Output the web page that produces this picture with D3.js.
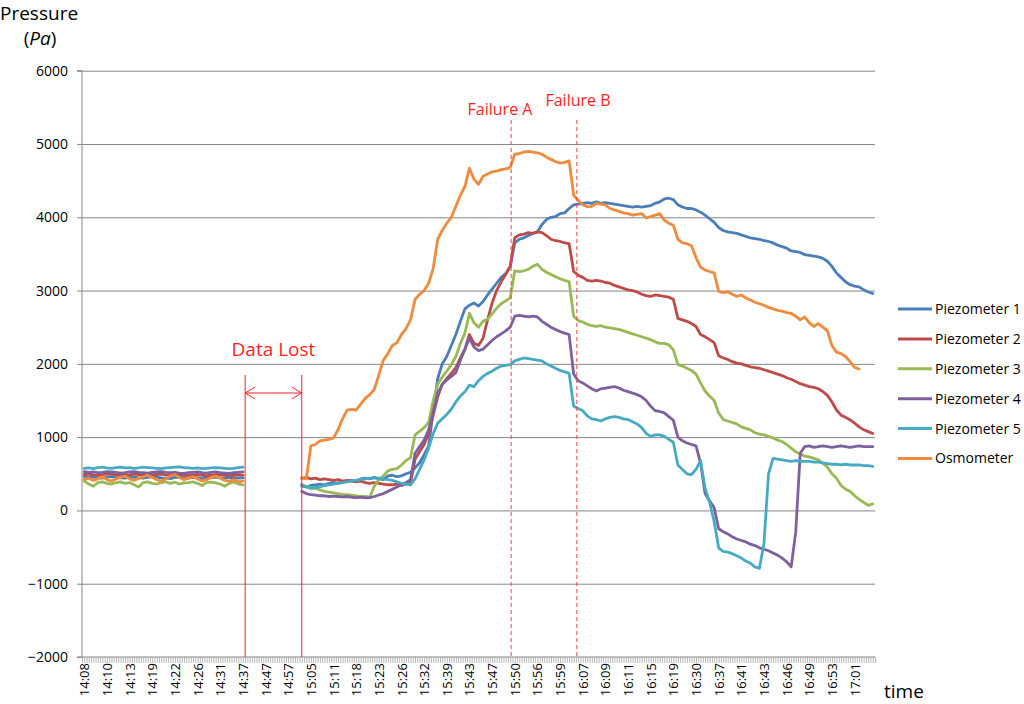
<!DOCTYPE html>
<html><head><meta charset="utf-8">
<script src="https://cdn.jsdelivr.net/npm/d3@7"></script>
<style>body{margin:0;background:#fff}svg{display:block}text{font-family:'Open Sans',sans-serif}</style>
</head><body><svg id="chart" width="1024" height="704"></svg>
<script>
// ---- tick labels (one every 5 samples) ----
const tickLabels = ["14:08","14:10","14:13","14:19","14:22","14:26","14:31","14:37","14:47","14:57",
  "15:05","15:11","15:18","15:23","15:26","15:32","15:39","15:43","15:47","15:50","15:56","15:59",
  "16:07","16:09","16:11","16:15","16:19","16:30","16:37","16:41","16:43","16:46","16:49","16:53","17:01"];
const samplesPerLabel = 5;
const yTicks = [-2000,-1000,0,1000,2000,3000,4000,5000,6000];
const seriesNames = ["Piezometer 1","Piezometer 2","Piezometer 3","Piezometer 4","Piezometer 5","Osmometer"];
const seriesColors = ["#4A7EBB","#BE4B48","#98B954","#7D60A0","#46AAC5","#F08A3C"];

// ---- series values (Pa), 175 samples, null = data lost ----
const piezo1 = [460,450,455,445,440,455,460,450,445,440,450,455,445,440,450,460,455,445,440,435,450,455,445,440,450,445,435,440,450,455,445,440,450,445,440,445,
  null,null,null,null,null,null,null,null,null,null,null,null,
  330,320,340,350,360,350,370,380,370,390,
  400,410,400,430,440,430,450,430,420,470,
  480,460,470,500,520,580,650,760,880,1350,
  1800,2000,2100,2250,2400,2580,2750,2800,2830,2790,
  2850,2940,3020,3100,3180,3230,3330,3650,3700,3720,
  3750,3780,3800,3900,3970,4000,4010,4050,4060,4120,
  4170,4180,4190,4200,4190,4210,4190,4200,4190,4180,
  4170,4160,4150,4140,4150,4140,4150,4160,4190,4210,
  4250,4260,4240,4170,4140,4120,4120,4100,4070,4030,
  3980,3930,3860,3820,3800,3790,3780,3760,3740,3720,
  3710,3700,3680,3670,3650,3620,3600,3580,3540,3530,
  3520,3490,3480,3470,3460,3440,3400,3330,3240,3180,
  3120,3080,3060,3050,3010,2980,2960];
const piezo2 = [490,495,485,480,490,500,495,485,490,480,485,495,490,480,475,485,490,495,485,480,490,485,480,475,485,490,480,470,480,490,485,480,475,480,485,480,
  null,null,null,null,null,null,null,null,null,null,null,null,
  440,450,430,440,420,430,420,410,420,400,
  410,400,390,400,380,370,380,370,360,350,
  350,360,340,360,370,700,800,900,1050,1300,
  1550,1720,1800,1870,1950,2080,2200,2400,2280,2250,
  2350,2600,2830,3000,3120,3220,3330,3720,3760,3770,
  3790,3780,3800,3790,3750,3700,3680,3670,3650,3640,
  3260,3210,3180,3140,3130,3140,3130,3110,3100,3070,
  3050,3030,3010,3000,2980,2950,2930,2920,2940,2930,
  2920,2910,2880,2620,2600,2580,2550,2510,2400,2370,
  2330,2290,2110,2080,2060,2030,2010,2000,1980,1960,
  1950,1940,1920,1900,1880,1860,1840,1810,1790,1760,
  1730,1710,1690,1680,1660,1620,1570,1480,1370,1300,
  1270,1235,1190,1140,1100,1075,1050];
const piezo3 = [400,360,330,380,390,370,360,380,390,370,380,350,320,380,390,370,360,380,390,370,385,360,375,380,390,370,340,380,385,375,360,330,370,385,360,350,
  null,null,null,null,null,null,null,null,null,null,null,null,
  350,330,310,300,280,260,250,240,230,220,
  215,210,200,190,190,180,330,420,470,540,
  560,570,620,680,720,1030,1080,1130,1200,1500,
  1720,1820,1900,1990,2100,2280,2420,2690,2560,2500,
  2580,2610,2680,2760,2820,2860,2900,3270,3260,3270,
  3290,3330,3360,3290,3250,3220,3190,3160,3140,3120,
  2650,2590,2570,2540,2520,2510,2520,2500,2490,2480,
  2470,2450,2430,2410,2390,2370,2350,2330,2300,2280,
  2280,2260,2190,1990,1970,1940,1910,1860,1740,1630,
  1560,1500,1330,1240,1220,1200,1180,1140,1120,1100,
  1060,1040,1030,1010,990,960,940,900,850,800,
  770,740,730,710,690,640,590,500,440,340,
  290,260,200,150,110,70,90];
const piezo4 = [530,520,525,515,520,530,525,520,510,515,525,530,520,515,510,520,525,530,520,515,520,510,505,515,520,525,515,510,520,525,515,510,505,515,520,525,
  null,null,null,null,null,null,null,null,null,null,null,null,
  260,230,215,210,200,200,190,195,190,185,
  190,180,175,180,170,175,190,210,230,260,
  290,320,350,380,420,780,870,960,1100,1350,
  1600,1720,1780,1830,1880,2050,2200,2350,2230,2180,
  2200,2260,2320,2370,2410,2450,2500,2650,2660,2650,
  2640,2650,2640,2580,2540,2500,2470,2440,2420,2400,
  1860,1770,1740,1700,1660,1630,1660,1670,1680,1690,
  1670,1640,1620,1600,1580,1550,1500,1420,1360,1350,
  1330,1280,1230,1000,950,920,900,880,650,230,
  130,40,-250,-290,-320,-360,-390,-410,-430,-460,
  -480,-510,-530,-550,-580,-610,-650,-700,-770,-300,
  780,870,880,860,870,880,870,860,870,880,
  870,860,870,880,870,870,870];
const piezo5 = [575,580,570,585,590,580,575,585,590,580,585,575,580,590,585,580,575,570,580,585,590,595,585,580,575,580,570,575,580,585,580,575,570,575,585,590,
  null,null,null,null,null,null,null,null,null,null,null,null,
  350,320,300,310,320,340,350,360,370,380,
  390,400,410,420,430,440,440,440,430,420,
  410,390,370,360,350,430,560,690,850,1050,
  1190,1250,1310,1380,1480,1560,1620,1710,1690,1770,
  1830,1870,1900,1940,1970,1980,1990,2040,2060,2080,
  2070,2060,2050,2040,2000,1970,1940,1910,1890,1870,
  1420,1390,1360,1290,1250,1240,1220,1250,1270,1280,
  1270,1250,1240,1210,1180,1130,1050,1010,1030,1030,
  1010,970,930,620,560,500,490,560,680,300,
  110,-150,-510,-560,-570,-590,-620,-650,-690,-720,
  -770,-790,-450,500,710,700,690,680,670,680,
  670,670,670,660,660,650,640,630,630,620,
  630,620,620,620,610,610,600];
const osmometer = [420,440,410,430,460,420,400,430,450,470,430,410,440,460,480,450,420,400,430,470,490,450,420,440,460,430,400,420,450,470,440,410,400,420,390,400,
  null,null,null,null,null,null,null,null,null,null,null,null,
  440,430,880,900,950,960,970,990,1100,1250,
  1370,1380,1370,1450,1530,1580,1650,1850,2050,2140,
  2250,2290,2400,2480,2600,2880,2950,3000,3100,3300,
  3700,3820,3920,4000,4150,4300,4420,4670,4520,4450,
  4560,4590,4620,4630,4650,4660,4680,4860,4870,4890,
  4900,4890,4880,4860,4820,4790,4760,4740,4750,4770,
  4300,4230,4170,4145,4150,4190,4180,4170,4120,4100,
  4080,4060,4050,4030,4040,4050,3990,4010,4030,4050,
  3960,3920,3890,3700,3650,3640,3610,3450,3320,3280,
  3260,3240,2990,2970,2985,2950,2920,2940,2900,2870,
  2840,2820,2800,2770,2750,2730,2720,2700,2690,2650,
  2600,2640,2560,2510,2550,2500,2450,2250,2160,2140,
  2100,2030,1950,1930,null,null,null];
const seriesData = [piezo1, piezo2, piezo3, piezo4, piezo5, osmometer];

// annotation positions expressed in sample index
const dataLostFrom = 35.5, dataLostTo = 48;
const failureA = 94.2, failureB = 108.7;

// ---- layout ----
const N = piezo1.length;
const L = 82, R = 875, T = 70.7, B = 657;
const svg = d3.select("#chart");
const x = d3.scaleLinear().domain([-0.5, N - 0.5]).range([L, R]);
const y = d3.scaleLinear().domain([-2000, 6000]).range([B, T]);
const gridCol = "#868686";

// gridlines
svg.append("g").attr("transform", `translate(${L},0)`)
  .call(d3.axisLeft(y).tickValues(yTicks.slice(1)).tickSize(-(R - L)).tickFormat(""))
  .call(g => g.select(".domain").remove())
  .call(g => g.selectAll("line").attr("stroke", gridCol).attr("stroke-width", 1));

// y axis
svg.append("g").attr("transform", `translate(${L},0)`)
  .call(d3.axisLeft(y).tickValues(yTicks).tickSize(5).tickPadding(9).tickFormat(d3.format("d")))
  .call(g => g.select(".domain").attr("stroke", gridCol).attr("d", `M-5,${B}H0V${T}H-5`))
  .call(g => g.selectAll("line").attr("stroke", gridCol))
  .call(g => g.selectAll("text").attr("font-size", 14).attr("fill", "#000").attr("font-family", "'Open Sans',sans-serif"));

// x axis: dense ticks
svg.append("g").attr("transform", `translate(0,${B})`)
  .call(d3.axisBottom(x).tickValues(d3.range(-0.5, N, 0.5)).tickSize(6).tickFormat(""))
  .call(g => g.select(".domain").attr("stroke", gridCol).attr("d", `M${L},0H${R}`))
  .call(g => g.selectAll("line").attr("stroke", "#9a9a9a").attr("stroke-width", 0.7));

// x labels
const labelIdx = tickLabels.map((d, j) => j * samplesPerLabel);
svg.append("g").attr("transform", `translate(0,${B})`)
  .call(d3.axisBottom(x).tickValues(labelIdx).tickSize(0).tickFormat((d, j) => tickLabels[j]))
  .call(g => g.select(".domain").remove())
  .call(g => g.selectAll("text")
    .attr("font-size", 13).attr("fill", "#000").attr("font-family", "'Open Sans',sans-serif")
    .attr("text-anchor", "end").attr("transform", "rotate(-90)")
    .attr("x", -6).attr("y", 0).attr("dy", "0.35em"));

// series lines
const line = d3.line().defined(d => d != null).x((d, i) => x(i)).y(d => y(d));
seriesData.forEach((arr, k) => {
  svg.append("path").datum(arr)
    .attr("d", line)
    .attr("fill", "none").attr("stroke", seriesColors[k])
    .attr("stroke-width", 2.8).attr("stroke-linejoin", "round").attr("stroke-linecap", "round");
});

// annotations
const red = "#ff1f1f";
[dataLostFrom, dataLostTo].forEach(v => {
  svg.append("line").attr("x1", x(v)).attr("x2", x(v)).attr("y1", 375).attr("y2", B)
    .attr("stroke", red).attr("stroke-width", 1);
});
const ax1 = x(dataLostFrom), ax2 = x(dataLostTo), ay = 393;
svg.append("line").attr("x1", ax1).attr("x2", ax2).attr("y1", ay).attr("y2", ay).attr("stroke", red).attr("stroke-width", 1);
svg.append("path").attr("d", `M${ax1+10},${ay-6}L${ax1},${ay}L${ax1+10},${ay+6}M${ax2-10},${ay-6}L${ax2},${ay}L${ax2-10},${ay+6}`)
  .attr("fill", "none").attr("stroke", red).attr("stroke-width", 1);
svg.append("text").attr("x", (ax1 + ax2) / 2).attr("y", 356).attr("text-anchor", "middle")
  .attr("font-size", 19).attr("fill", red).text("Data Lost");

[[failureA, "Failure A", 500, 115], [failureB, "Failure B", 578, 106]].forEach(([v, t, tx, ty]) => {
  svg.append("line").attr("x1", x(v)).attr("x2", x(v)).attr("y1", 120).attr("y2", B)
    .attr("stroke", "#ff4040").attr("stroke-width", 1).attr("stroke-dasharray", "4,3");
  svg.append("text").attr("x", tx).attr("y", ty).attr("text-anchor", "middle")
    .attr("font-size", 16).attr("fill", red).text(t);
});

// legend
const lg = svg.append("g");
seriesNames.forEach((n, k) => {
  const cy = 309 + k * 29.9;
  lg.append("line").attr("x1", 898).attr("x2", 932).attr("y1", cy).attr("y2", cy)
    .attr("stroke", seriesColors[k]).attr("stroke-width", 3);
  lg.append("text").attr("x", 935).attr("y", cy).attr("dy", "0.35em")
    .attr("font-size", 14).attr("fill", "#000").text(n);
});

// titles
const titleFont = "'Liberation Sans',Arial,sans-serif";
svg.append("text").attr("x", 0).attr("y", 20).attr("font-family", titleFont).attr("font-size", 19).attr("fill", "#000").text("Pressure");
const pa = svg.append("text").attr("x", 40).attr("y", 45).attr("text-anchor", "middle").attr("font-family", titleFont).attr("font-size", 19).attr("fill", "#000");
pa.append("tspan").text("(");
pa.append("tspan").attr("font-style", "italic").text("Pa");
pa.append("tspan").text(")");
svg.append("text").attr("x", 884).attr("y", 698).attr("font-size", 19).attr("fill", "#000").text("time");
</script></body></html>
